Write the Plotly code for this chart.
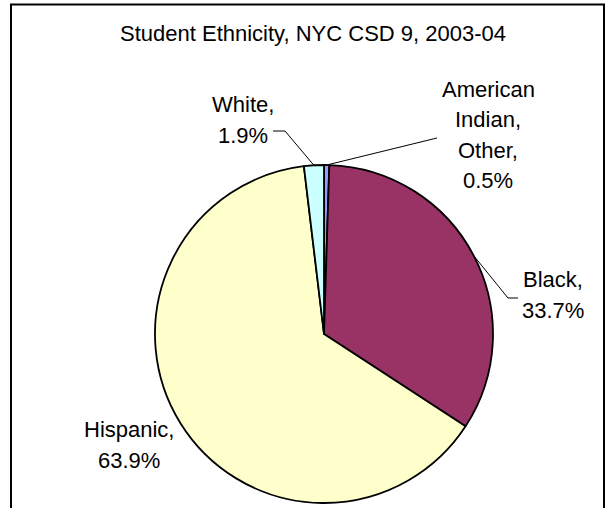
import math
import plotly.graph_objects as go

# ---- data ----
categories = ["American Indian, Other", "Black", "Hispanic", "White"]
values = [0.5, 33.7, 63.9, 1.9]
colors = ["#9999FF", "#993366", "#FFFFCC", "#CCFFFF"]
label_lines = [["American", "Indian,", "Other,"], ["Black,"], ["Hispanic,"], ["White,"]]
title_text = "Student Ethnicity, NYC CSD 9, 2003-04"

# ---- layout constants (page pixels) ----
W, H = 611, 508
CX, CY, R = 324, 334, 169
FONT = "Liberation Sans, Arial, sans-serif"
LABEL_SIZE = 22
TITLE_SIZE = 22
LINE_SP = 30.5
# label block centres (pixels)
label_pos = [(488, 135), (553, 295), (129, 445), (243, 120)]
# leader elbow / end points (pixels), None = no leader
leaders = [[(437, 138)], [(508, 298), (518, 298)], None, [(285, 131), (273, 131)]]


def px(x):
    return x / W


def py(y):
    return 1 - y / H


fig = go.Figure(go.Pie(
    labels=categories, values=values, sort=False, direction="clockwise",
    rotation=0, textinfo="none", hoverinfo="label+percent",
    marker=dict(colors=colors, line=dict(color="black", width=1.8)),
    domain=dict(x=[px(CX - R), px(CX + R)], y=[py(CY + R), py(CY - R)]),
    showlegend=False,
))

annotations = []
shapes = []
total = sum(values)
cum = 0.0
for i, v in enumerate(values):
    mid = (cum + v / 2) / total * 2 * math.pi
    cum += v
    ex = CX + R * math.sin(mid)
    ey = CY - R * math.cos(mid)
    lines = label_lines[i] + [f"{v / total * 100:.1f}%"]
    lx, ly = label_pos[i]
    n = len(lines)
    for j, t in enumerate(lines):
        yy = ly + (j - (n - 1) / 2) * LINE_SP
        annotations.append(dict(
            x=px(lx), y=py(yy), xref="paper", yref="paper", text=t,
            showarrow=False, xanchor="center", yanchor="middle",
            font=dict(family=FONT, size=LABEL_SIZE, color="black")))
    if leaders[i]:
        pts = [(ex, ey)] + leaders[i]
        path = "M " + " L ".join(f"{px(a)},{py(b)}" for a, b in pts)
        shapes.append(dict(type="path", path=path, xref="paper", yref="paper",
                           line=dict(color="black", width=1)))

annotations.append(dict(
    x=px(313), y=py(34), xref="paper", yref="paper", text=title_text,
    showarrow=False, xanchor="center", yanchor="middle",
    font=dict(family=FONT, size=TITLE_SIZE, color="black")))

shapes.append(dict(type="rect", xref="paper", yref="paper",
                   x0=px(11), x1=px(604), y0=py(530), y1=py(4.5),
                   line=dict(color="black", width=2)))

fig.update_layout(
    width=W, height=H, margin=dict(l=0, r=0, t=0, b=0),
    paper_bgcolor="white", plot_bgcolor="white",
    annotations=annotations, shapes=shapes,
)

fig.write_html(
    "out.html",
    config={"displayModeBar": False},
    post_script="document.body.style.margin='0';document.body.style.overflow='hidden';",
)
